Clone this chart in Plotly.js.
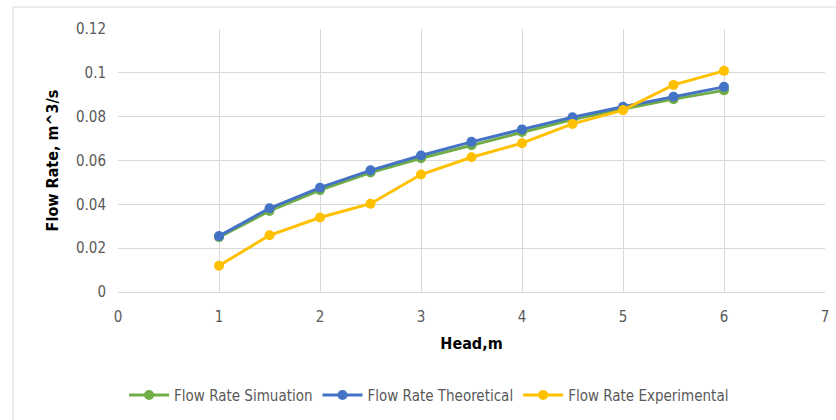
<!DOCTYPE html>
<html>
<head>
<meta charset="utf-8">
<script src="https://cdn.plot.ly/plotly-3.0.1.min.js"></script>
<style>html,body{margin:0;padding:0;background:#fff;}#chart{width:836px;height:420px;}</style>
</head>
<body>
<div id="chart"></div>
<script>
const head = [1, 1.5, 2, 2.5, 3, 3.5, 4, 4.5, 5, 5.5, 6];
const flowSimulation = [0.025, 0.037, 0.0465, 0.0545, 0.061, 0.067, 0.073, 0.0787, 0.0835, 0.088, 0.092];
const flowTheoretical = [0.0255, 0.0382, 0.0476, 0.0555, 0.0623, 0.0685, 0.0742, 0.0797, 0.0845, 0.0891, 0.0936];
const flowExperimental = [0.012, 0.0259, 0.034, 0.0403, 0.0536, 0.0615, 0.0679, 0.0767, 0.083, 0.0945, 0.1009];
const seriesNames = ["Flow Rate Simuation", "Flow Rate Theoretical", "Flow Rate Experimental"];
const xTitle = "Head,m";
const yTitle = "Flow Rate, m^3/s";

const FONT = "'DejaVu Sans Condensed', 'Liberation Sans', sans-serif";
const colors = ["#70AD47", "#4472C4", "#FFC000"];
const ys = [flowSimulation, flowTheoretical, flowExperimental];

const traces = ys.map((y, i) => ({
  x: head, y: y, type: 'scatter', mode: 'lines+markers', name: seriesNames[i],
  line: {color: colors[i], width: 3},
  marker: {color: colors[i], size: 10}
}));

const layout = {
  width: 836, height: 420,
  margin: {l: 118, r: 11, t: 29, b: 128, pad: 0, autoexpand: false},
  paper_bgcolor: '#fff', plot_bgcolor: '#fff',
  font: {family: FONT, color: '#595959', size: 15},
  showlegend: true,
  legend: {orientation: 'h', x: 0.44, xanchor: 'center', y: -0.33, yanchor: 'top',
           font: {family: FONT, size: 15, color: '#595959'}, traceorder: 'normal', itemwidth: 40},
  xaxis: {range: [0, 7], dtick: 1, tick0: 0, showgrid: true, gridcolor: '#d9d9d9', gridwidth: 1,
          zeroline: false, showline: true, linecolor: '#d9d9d9', ticks: '', ticklabelstandoff: 11,
          tickfont: {family: FONT, size: 15, color: '#595959'},
          title: {text: '<b>' + xTitle + '</b>', font: {family: FONT, size: 16, color: '#000'}, standoff: 12}},
  yaxis: {range: [0, 0.12], dtick: 0.02, tick0: 0, showgrid: true, gridcolor: '#d9d9d9', gridwidth: 1,
          zeroline: false, showline: false, ticks: '', ticklabelstandoff: 11,
          tickfont: {family: FONT, size: 15, color: '#595959'},
          title: {text: '<b>' + yTitle + '</b>', font: {family: FONT, size: 16, color: '#000'}, standoff: 13}},
  shapes: [{type: 'rect', xref: 'paper', yref: 'paper', x0: -0.1483, x1: 1.1, y0: -1.0, y1: 1.0835,
            line: {color: '#d9d9d9', width: 1}, fillcolor: 'rgba(0,0,0,0)', layer: 'below'}]
};

Plotly.newPlot('chart', traces, layout, {displayModeBar: false, staticPlot: true});
</script>
</body>
</html>
